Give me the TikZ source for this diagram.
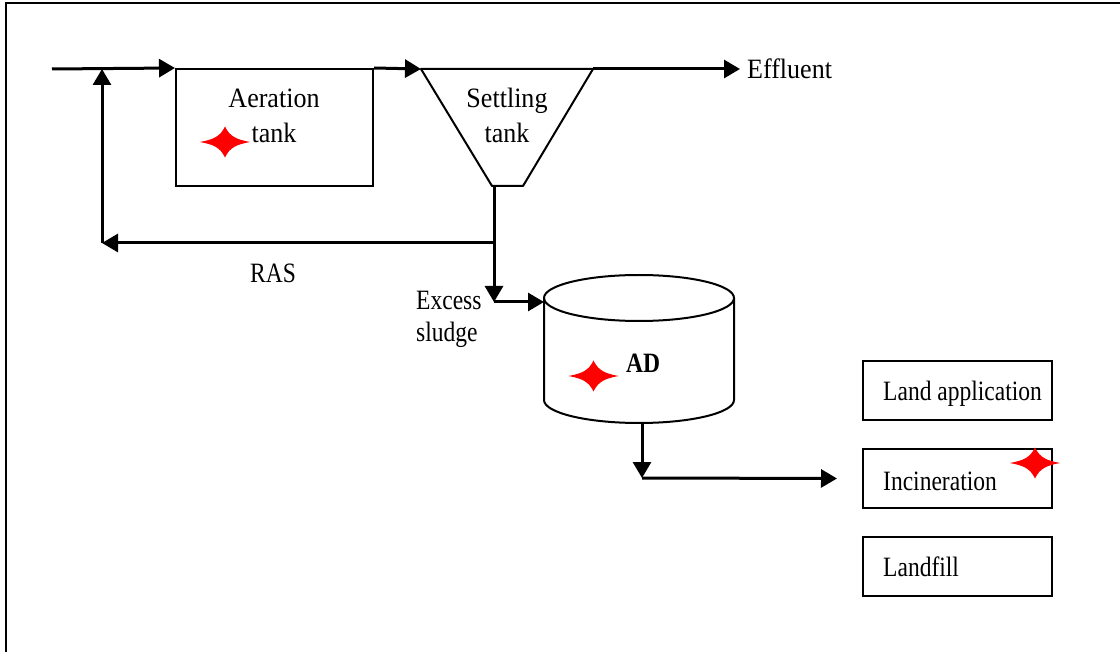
\documentclass[tikz,border=0pt]{standalone}
\usepackage{fontspec}
\setmainfont{Liberation Serif}[FakeStretch=0.93]
\newfontfamily\narrowfont{Liberation Serif}[FakeStretch=0.84]
\usetikzlibrary{arrows.meta}
\begin{document}
\begin{tikzpicture}[x=1pt,y=-1pt,
  lbl/.style={inner sep=0pt,font=\fontsize{28}{34}\selectfont},
  nlbl/.style={inner sep=0pt,font=\fontsize{28}{34}\selectfont\narrowfont},
  flow/.style={line width=3pt,-{Triangle[length=16pt,width=18pt]}},
  pipe/.style={line width=3pt},
  boxed/.style={draw,line width=2pt,inner sep=0pt},
  redstar/.pic={\fill[red] (-25,0) .. controls (-12,-2.5) and (-5,-5) .. (0,-15.5)
      .. controls (5,-5) and (12,-2.5) .. (25,0)
      .. controls (12,2.5) and (5,5) .. (0,15.5)
      .. controls (-5,5) and (-12,2.5) .. (-25,0) -- cycle;}
]
\useasboundingbox (0,0) rectangle (1120,652);
% outer frame
\draw[line width=2pt] (1121,3) -- (6,3) -- (6,653);

% aeration tank
\node[boxed,minimum width=197pt,minimum height=117pt] (aer) at (274.5,127.5) {};
\node[lbl,anchor=base] (aerA) at (274,108) {Aeration};
\node[lbl,anchor=base] (aerB) at (274,143) {tank};

% settling tank
\coordinate (stTL) at (421,69);
\coordinate (stTR) at (593,69);
\coordinate (stBR) at (523,186);
\coordinate (stBL) at (492,186);
\draw[line width=2pt,line join=round] (stTL) -- (stTR) -- (stBR) -- (stBL) -- cycle;
\node[lbl,anchor=base] (stA) at (507,108) {Settling};
\node[lbl,anchor=base] (stB) at (507,143) {tank};
\coordinate (stOut) at (494,186);

% effluent
\node[lbl,anchor=base west] (eff) at (747,79) {Effluent};

% feed and recycle
\coordinate (feed) at (52,69);
\coordinate (rasTop) at (102,69);
\coordinate (rasCorner) at (102,243);
\coordinate (j1) at (494,243);
\coordinate (j2) at (494,302);
\node[nlbl,anchor=base] (ras) at (273,283) {RAS};

% anaerobic digester
\coordinate (adIn) at (544,302);
\coordinate (adOut) at (642,423);
\coordinate (j3) at (642,478);
\draw[line width=2pt] (639,298) ellipse [x radius=95, y radius=23];
\draw[line width=2pt] (544,298) -- (544,400) arc[start angle=180,end angle=360,x radius=95,y radius=-23] -- (734,298);
\node[nlbl,anchor=base,font=\fontsize{28}{34}\selectfont\narrowfont\bfseries] (ad) at (643,373) {AD};
\node[nlbl,anchor=base west] (exA) at (416,310) {Excess};
\node[nlbl,anchor=base west] (exB) at (416,342) {sludge};

% disposal boxes
\node[boxed,minimum width=189pt,minimum height=59pt] (land) at (957.5,390.5) {};
\node[boxed,minimum width=189pt,minimum height=59pt] (inc) at (957.5,478.5) {};
\node[boxed,minimum width=189pt,minimum height=59pt] (fill) at (957.5,566.5) {};
\node[nlbl,anchor=base west] (landT) at (883,401) {Land application};
\node[nlbl,anchor=base west] (incT) at (883,490) {Incineration};
\node[nlbl,anchor=base west] (fillT) at (883,576) {Landfill};

% connectors
\draw[flow] (feed) -- (aer.north west);
\draw[flow] (aer.north east) -- (stTL);
\draw[flow] (stTR) -- ([xshift=-7pt]eff.west |- stTR);
\draw[pipe] (stOut) -- (j1);
\draw[flow] (j1) -- (rasCorner);
\draw[flow] (rasCorner) -- (rasTop);
\draw[flow] (j1) -- (j2);
\draw[flow] (j2) -- (adIn);
\draw[flow] (adOut) -- (j3);
\draw[flow] (j3) -- ([xshift=-25pt]inc.west);

% stars
\pic at (225,142) {redstar};
\pic at (593.5,376) {redstar};
\pic at (1035,463) {redstar};
\end{tikzpicture}
\end{document}
